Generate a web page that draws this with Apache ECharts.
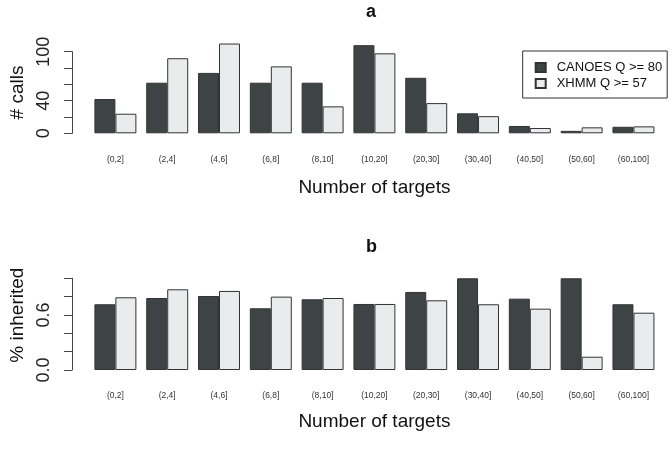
<!DOCTYPE html>
<html>
<head>
<meta charset="utf-8">
<script src="https://cdn.jsdelivr.net/npm/echarts@6/dist/echarts.min.js"></script>
<style>html,body{margin:0;padding:0;background:#fff}#c{width:672px;height:450px}</style>
</head>
<body>
<div id="c"></div>
<script>
const categories = ['(0,2]','(2,4]','(4,6]','(6,8]','(8,10]','(10,20]','(20,30]','(30,40]','(40,50]','(50,60]','(60,100]'];
const seriesNames = ['CANOES Q >= 80','XHMM Q >= 57'];
const callsCanoes = [42, 62, 74, 62, 62, 108, 68, 24.5, 9, 3, 8];
const callsXhmm   = [24, 92, 110, 82, 33, 98, 37, 21, 6.5, 7.3, 8.5];
const inhCanoes = [0.717, 0.785, 0.807, 0.673, 0.771, 0.72, 0.851, 1.0, 0.778, 1.0, 0.717];
const inhXhmm   = [0.793, 0.880, 0.862, 0.800, 0.785, 0.72, 0.760, 0.717, 0.669, 0.145, 0.625];
const callsTickLabels = [0, 40, 100];
const inhTickLabels = [0.0, 0.6];
const panelTitles = ['a', 'b'];
const xName = 'Number of targets';
const yNames = ['# calls', '% inherited'];

const DARK = '#3e4446', LIGHT = '#e8eced', EDGE = '#333';
const FONT = 'Liberation Sans, Arial, Helvetica, sans-serif';

function xAxis(gridIndex, gap, margin) {
  return {
    type: 'category', gridIndex, data: categories,
    axisLine: {show: false}, axisTick: {show: false},
    axisLabel: {fontSize: 8.5, color: '#333', margin, fontFamily: FONT, interval: 0},
    name: xName, nameLocation: 'middle', nameGap: gap,
    nameTextStyle: {fontSize: 19, color: '#111', fontFamily: FONT}
  };
}
function yAxis(gridIndex, max, interval, shown, name, dec, namePad) {
  return {
    type: 'value', gridIndex, min: 0, max, interval, offset: 17.5,
    splitLine: {show: false},
    axisLine: {show: true, lineStyle: {color: '#444', width: 1}},
    axisTick: {show: true, length: 8, lineStyle: {color: '#444'}},
    axisLabel: {
      rotate: 90, fontSize: 18, color: '#222', margin: 19, fontFamily: FONT,
      formatter: v => shown.some(s => Math.abs(s - v) < 1e-9) ? v.toFixed(dec) : ''
    },
    name, nameLocation: 'middle', nameGap: 45,
    nameTextStyle: {fontSize: 19, color: '#111', fontFamily: FONT, padding: namePad}
  };
}
function bar(name, data, xi, color) {
  return {
    type: 'bar', name, data, xAxisIndex: xi, yAxisIndex: xi, clip: false,
    barGap: '0%', barCategoryGap: '19%',
    itemStyle: {color, borderColor: EDGE, borderWidth: 1},
    emphasis: {disabled: true}
  };
}

const chart = echarts.init(document.getElementById('c'), null, {renderer: 'canvas'});
chart.setOption({
  animation: false,
  backgroundColor: '#fff',
  title: [
    {text: panelTitles[0], left: 366, top: 3, padding: 0, textStyle: {fontSize: 18, fontWeight: 'bold', color: '#111', fontFamily: FONT}},
    {text: panelTitles[1], left: 366, top: 238, padding: 0, textStyle: {fontSize: 18, fontWeight: 'bold', color: '#111', fontFamily: FONT}}
  ],
  legend: {
    data: seriesNames, orient: 'vertical', left: 522.7, top: 51,
    padding: [9, 5, 7, 12], borderColor: '#333', borderWidth: 1,
    itemWidth: 10, itemHeight: 9, itemGap: 1, icon: 'rect',
    textStyle: {fontSize: 13, color: '#111', fontFamily: FONT, lineHeight: 15, padding: [0, 0, 0, 6]}
  },
  grid: [
    {left: 84.35, right: 12.65, top: 51.7, bottom: 316.7},
    {left: 84.35, right: 12.65, top: 278.3, bottom: 80}
  ],
  xAxis: [xAxis(0, 44.5, 22), xAxis(1, 42, 21)],
  yAxis: [
    yAxis(0, 100, 20, callsTickLabels, yNames[0], 0, [0, 0, 0, 0]),
    yAxis(1, 1, 0.2, inhTickLabels, yNames[1], 1, [0, 0, 0, 18])
  ],
  series: [
    bar(seriesNames[0], callsCanoes, 0, DARK),
    bar(seriesNames[1], callsXhmm, 0, LIGHT),
    bar(seriesNames[0], inhCanoes, 1, DARK),
    bar(seriesNames[1], inhXhmm, 1, LIGHT)
  ]
});
</script>
</body>
</html>
